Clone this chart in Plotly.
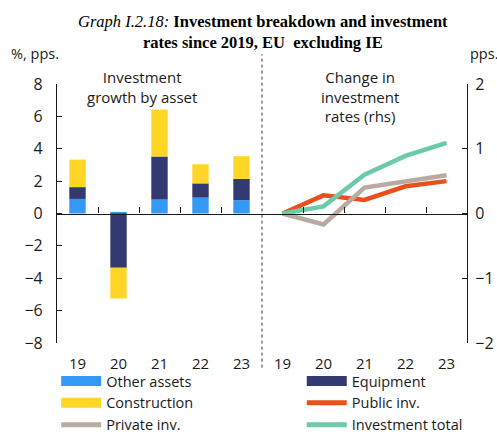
import plotly.graph_objects as go

years = ["19", "20", "21", "22", "23"]
other_assets = [0.9, 0.1, 0.86, 0.98, 0.82]
equipment = [0.73, -3.35, 2.66, 0.88, 1.32]
construction = [1.7, -1.9, 2.9, 1.18, 1.4]

public_inv = [0.0, 0.28, 0.21, 0.42, 0.50]
private_inv = [0.0, -0.17, 0.40, 0.49, 0.59]
investment_total = [0.0, 0.11, 0.60, 0.89, 1.09]

C_OTHER = "#3399F5"
C_EQUIP = "#333A72"
C_CONSTR = "#FFD626"
C_PUBLIC = "#E8501A"
C_PRIVATE = "#B9AAA2"
C_TOTAL = "#6DCAA8"

FONT = "Open Sans"

n = len(years)
x_left = list(range(n))
x_right = [i + n for i in range(n)]

fig = go.Figure()

for name, vals, col in [("Other assets", other_assets, C_OTHER),
                        ("Equipment", equipment, C_EQUIP),
                        ("Construction", construction, C_CONSTR)]:
    fig.add_trace(go.Bar(x=x_left, y=vals, name=name, marker_color=col,
                         marker_line_width=0, width=0.4, showlegend=False,
                         xaxis="x", yaxis="y"))

for name, vals, col in [("Public inv.", public_inv, C_PUBLIC),
                        ("Private inv.", private_inv, C_PRIVATE),
                        ("Investment total", investment_total, C_TOTAL)]:
    fig.add_trace(go.Scatter(x=x_right, y=vals, name=name, mode="lines",
                             line=dict(color=col, width=4.5), showlegend=False,
                             xaxis="x", yaxis="y2"))

# legend-only entries, two columns
legend_items = [("Other assets", C_OTHER, 10, "legend"),
                ("Construction", C_CONSTR, 10, "legend"),
                ("Private inv.", C_PRIVATE, 5, "legend"),
                ("Equipment", C_EQUIP, 10, "legend2"),
                ("Public inv.", C_PUBLIC, 5, "legend2"),
                ("Investment total", C_TOTAL, 5, "legend2")]
for name, col, w, lg in legend_items:
    fig.add_trace(go.Scatter(x=[None], y=[None], name=name, mode="lines",
                             line=dict(color=col, width=w), xaxis="x", yaxis="y",
                             legend=lg))

# helper trace for the zero-line axis
fig.add_trace(go.Scatter(x=[0], y=[0], mode="none", showlegend=False,
                         hoverinfo="skip", xaxis="x2", yaxis="y"))

all_labels = years + years
boundaries = [i + 0.5 for i in range(2 * n - 1) if i != n - 1]

legend_common = dict(orientation="v", yanchor="top", xanchor="left",
                     font=dict(size=14.5), tracegroupgap=0, itemwidth=40,
                     bgcolor="rgba(0,0,0,0)", borderwidth=0)

fig.update_layout(
    width=497, height=434,
    margin=dict(l=57, r=30, t=84, b=91, autoexpand=False),
    paper_bgcolor="white", plot_bgcolor="white",
    font=dict(family=FONT, size=15, color="#1a1a1a"),
    barmode="relative",
    showlegend=True,
    xaxis=dict(range=[-0.5, 2 * n - 0.5], tickvals=list(range(2 * n)),
               ticktext=all_labels, showgrid=False, zeroline=False,
               showline=False, ticks="", tickfont=dict(size=15),
               ticklabelstandoff=10),
    xaxis2=dict(range=[-0.5, 2 * n - 0.5], overlaying="x", anchor="free",
                position=0.5, side="bottom", showgrid=False, zeroline=False,
                showline=True, linecolor="#1a1a1a", linewidth=1.2,
                tickvals=boundaries, ticks="inside", ticklen=6,
                tickcolor="#1a1a1a", showticklabels=False),
    yaxis=dict(range=[-8, 8], dtick=2, showgrid=False, zeroline=False,
               showline=True, linecolor="#1a1a1a", linewidth=1.2,
               ticks="inside", ticklen=5, tickcolor="#1a1a1a",
               tickfont=dict(size=16), ticklabelstandoff=10),
    yaxis2=dict(range=[-2, 2], dtick=1, overlaying="y", side="right",
                showgrid=False, zeroline=False, showline=True,
                linecolor="#1a1a1a", linewidth=1.2, ticks="inside",
                ticklen=5, tickcolor="#1a1a1a", tickfont=dict(size=16),
                ticklabelstandoff=4),
    legend=dict(x=-0.002, y=-0.085, **legend_common),
    legend2=dict(x=0.597, y=-0.085, **legend_common),
)

fig.add_annotation(text="<i>Graph I.2.18:</i> <b>Investment breakdown and investment</b><br>"
                        "<b>rates since 2019, EU  excluding IE</b>",
                   xref="paper", yref="paper", x=0.502, y=1.285, xanchor="center",
                   yanchor="top", showarrow=False,
                   font=dict(family="Liberation Serif", size=16.5, color="black"))

fig.add_shape(type="line", xref="x", yref="paper", x0=n - 0.5, x1=n - 0.5,
              y0=-0.095, y1=1.115, line=dict(color="#333333", width=1, dash="3px,3px"))

fig.add_annotation(text="%, pps.", xref="paper", yref="paper", x=-0.118, y=1.073,
                   xanchor="left", yanchor="bottom", showarrow=False,
                   font=dict(size=14.5))
fig.add_annotation(text="pps.", xref="paper", yref="paper", x=1.003, y=1.073,
                   xanchor="left", yanchor="bottom", showarrow=False,
                   font=dict(size=14.5))
fig.add_annotation(text="Investment<br>growth by asset", xref="x", yref="paper",
                   x=1.57, y=1.075, xanchor="center", yanchor="top",
                   showarrow=False, font=dict(size=15))
fig.add_annotation(text="Change in<br>investment<br>rates (rhs)", xref="x", yref="paper",
                   x=6.89, y=1.075, xanchor="center", yanchor="top",
                   showarrow=False, font=dict(size=15))

fig.write_html("out.html", config={"displayModeBar": False},
               post_script="document.body.style.margin='0';")
